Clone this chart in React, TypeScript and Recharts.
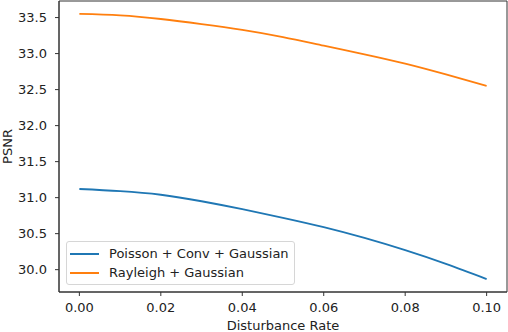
import { LineChart, Line, XAxis, YAxis, ReferenceArea } from "recharts"

const rates = [0, 0.01, 0.02, 0.03, 0.04, 0.05, 0.06, 0.07, 0.08, 0.09, 0.1]
const poissonConv = [31.12, 31.09, 31.04, 30.95, 30.84, 30.72, 30.59, 30.44, 30.27, 30.08, 29.87]
const rayleigh = [33.55, 33.53, 33.48, 33.41, 33.33, 33.23, 33.11, 32.99, 32.86, 32.71, 32.55]
const xTicks = [0, 0.02, 0.04, 0.06, 0.08, 0.1]
const yTicks = [30.0, 30.5, 31.0, 31.5, 32.0, 32.5, 33.0, 33.5]
const seriesNames = ["Poisson + Conv + Gaussian", "Rayleigh + Gaussian"]
const seriesColors = ["#1f77b4", "#ff7f0e"]

const X_DOMAIN: [number, number] = [-0.005, 0.105]
const Y_DOMAIN: [number, number] = [29.69, 33.73]

const font = "'DejaVu Sans', sans-serif"
const fontSize = 13
const axisColor = "#333"
const textColor = "#222"

const data = rates.map((r, i) => ({
  rate: r,
  poisson: poissonConv[i],
  rayleigh: rayleigh[i],
}))

function LegendBox() {
  return (
    <div
      style={{
        position: "absolute",
        left: 66,
        top: 241,
        border: "1px solid #d6d6d6",
        borderRadius: 3,
        background: "rgba(255,255,255,0.8)",
        padding: "2px 5px 2px 3px",
        fontFamily: font,
        fontSize,
        color: textColor,
        whiteSpace: "nowrap",
      }}
    >
      {seriesNames.map((name, i) => (
        <div key={name} style={{ display: "flex", alignItems: "center", height: 19 }}>
          <span
            style={{ display: "inline-block", width: 29, height: 2, background: seriesColors[i], marginRight: 10 }}
          />
          <span>{name}</span>
        </div>
      ))}
    </div>
  )
}

export default function App() {
  return (
    <div style={{ position: "fixed", left: 0, top: 0, width: 508, height: 332, background: "#fff" }}>
      <LineChart width={508} height={332} data={data} margin={{ top: 1, right: 1, left: 0, bottom: 0 }}>
        <XAxis
          dataKey="rate"
          type="number"
          domain={X_DOMAIN}
          ticks={xTicks}
          tickFormatter={(v: number) => v.toFixed(2)}
          stroke={axisColor}
          tick={{ fill: textColor, fontSize, fontFamily: font }}
          tickSize={4}
          tickMargin={7}
          height={40}
          label={{ value: "Disturbance Rate", position: "insideBottom", offset: 2, fill: textColor, fontSize, fontFamily: font }}
        />
        <YAxis
          type="number"
          domain={Y_DOMAIN}
          ticks={yTicks}
          tickFormatter={(v: number) => v.toFixed(1)}
          stroke={axisColor}
          tick={{ fill: textColor, fontSize, fontFamily: font }}
          tickSize={4}
          tickMargin={8}
          width={59}
          label={{ value: "PSNR", angle: -90, position: "insideLeft", offset: 7, fill: textColor, fontSize, fontFamily: font, style: { textAnchor: "middle" } }}
        />
        <ReferenceArea
          x1={X_DOMAIN[0]}
          x2={X_DOMAIN[1]}
          y1={Y_DOMAIN[0]}
          y2={Y_DOMAIN[1]}
          fill="none"
          fillOpacity={0}
          stroke={axisColor}
          strokeWidth={1}
        />
        <Line
          type="natural"
          dataKey="poisson"
          name={seriesNames[0]}
          stroke={seriesColors[0]}
          strokeWidth={1.8}
          dot={false}
          isAnimationActive={false}
        />
        <Line
          type="natural"
          dataKey="rayleigh"
          name={seriesNames[1]}
          stroke={seriesColors[1]}
          strokeWidth={1.8}
          dot={false}
          isAnimationActive={false}
        />
      </LineChart>
      <LegendBox />
    </div>
  )
}
